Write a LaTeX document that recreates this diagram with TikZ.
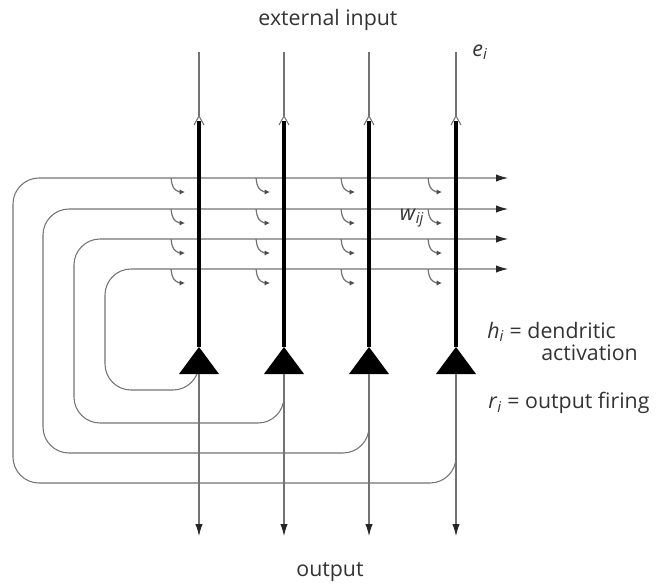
\documentclass[tikz,border=0pt]{standalone}
\usepackage{fontspec}
\setmainfont{Open Sans}
\usetikzlibrary{arrows.meta}

\begin{document}
\begin{tikzpicture}[
  x=0.75pt, y=-0.75pt,
  fibre/.style={draw=black!55, line width=0.8pt},
  dendrite/.style={draw=black, line width=2.3pt},
  soma/.style={fill=black},
  synapse/.style={draw=black!55, line width=0.9pt, -{Latex[length=4pt,width=4pt,color=black!70]}},
  label/.style={font=\fontsize{16}{18}\selectfont, text=black!80, inner sep=0pt},
  >={Latex[length=9pt,width=5.5pt,color=black!85]}
]
\useasboundingbox (0,0) rectangle (665,583);

% neuron columns
\foreach \i/\x in {1/199,2/284,3/369,4/456}{
  \coordinate (in\i) at (\x,52);
  \coordinate (top\i) at (\x,116);
  \coordinate (den\i) at (\x,121);
  \coordinate (apex\i) at (\x,347);
  \coordinate (base\i) at (\x,374);
  \coordinate (out\i) at (\x,536);
}

% recurrent collaterals, row k fed back from neuron 5-k
\foreach \k/\y/\xl/\yb/\xc in {1/178/13/483/456, 2/209/43/453/369, 3/239/74/423/284, 4/269/105/390/199}{
  \coordinate (join\k) at (\xc,\yb-26);
  \coordinate (rowend\k) at (508,\y);
  \draw[fibre, rounded corners=19.5pt, ->] (join\k) |- (\xl,\yb) |- (rowend\k);
}

% input fibres and dendrites
\foreach \i/\x in {1/199,2/284,3/369,4/456}{
  \draw[fibre] (in\i) -- (top\i);
  \draw[fibre] (\x-5,125) -- (top\i) -- (\x+5,125);
  \draw[dendrite] (den\i) -- (apex\i);
}

% synapses
\foreach \y in {178,209,239,269}{
  \foreach \x in {199,284,369,456}{
    \draw[synapse] (\x-28,\y) -- (\x-27,\y+6) to[out=-80,in=180] (\x-14,\y+14);
  }
}

% cell bodies and output axons
\foreach \i/\x in {1/199,2/284,3/369,4/456}{
  \fill[soma] (apex\i) -- (\x-20,374) -- (\x+20,374) -- cycle;
  \draw[fibre, ->] (base\i) -- (out\i);
}

\node[label] (extin) at (328,20) {external input};
\node[label] (elab) at (480,52) {\textit{e}\textsubscript{\textit{i}}};
\node[label] (wlab) at (412,218) {\textit{w}\textsubscript{\textit{ij}}};
\node[label, anchor=west] (hlab) at (487,332) {\textit{h}\textsubscript{\textit{i}} = dendritic};
\node[label, anchor=east] (hlab2) at (638,353) {activation};
\node[label, anchor=west] (rlab) at (488,403) {\textit{r}\textsubscript{\textit{i}} = output firing};
\node[label] (outlab) at (330,572) {output};

\end{tikzpicture}
\end{document}
